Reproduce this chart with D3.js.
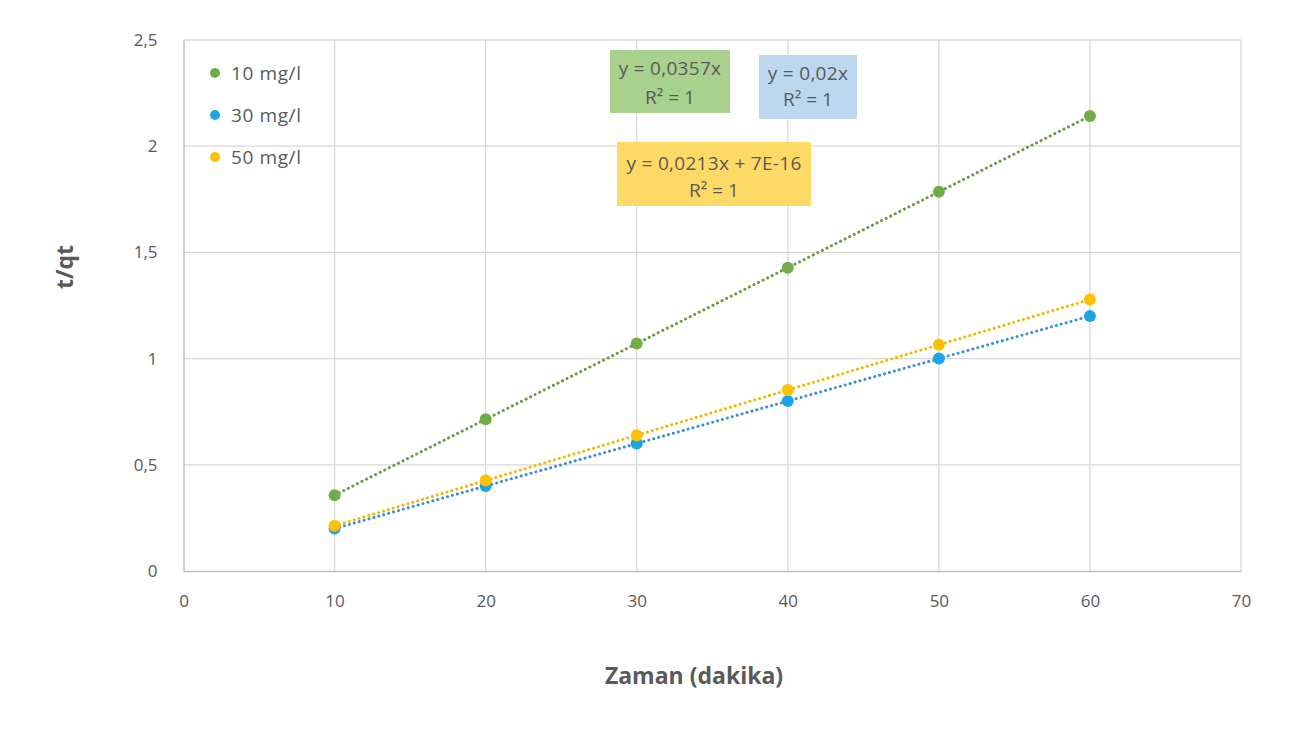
<!DOCTYPE html>
<html>
<head>
<meta charset="utf-8">
<script src="https://cdn.jsdelivr.net/npm/d3@7"></script>
<style>
  html, body { margin: 0; padding: 0; background: #fff; }
  svg { display: block; font-family: "Open Sans", "Noto Sans", sans-serif; }
</style>
</head>
<body>
<svg id="chart" width="1311" height="753"></svg>
<script>
// Time (minutes) for each measurement
const times = [10, 20, 30, 40, 50, 60];
// t/qt values for each initial concentration
const conc10 = [0.357, 0.714, 1.071, 1.428, 1.785, 2.142];
const conc30 = [0.2, 0.4, 0.6, 0.8, 1.0, 1.2];
const conc50 = [0.213, 0.426, 0.639, 0.852, 1.065, 1.278];

const seriesNames = ["10 mg/l", "30 mg/l", "50 mg/l"];
const seriesValues = [conc10, conc30, conc50];
const seriesColors = ["#70AD47", "#1AA6E4", "#FFC000"];
const trendColors = ["#6a9a45", "#3a8fd6", "#f2b800"];

// Trendline equations shown in labelled boxes
const equations = [
  { line1: "y = 0,0357x", line2: "R² = 1" },
  { line1: "y = 0,02x", line2: "R² = 1" },
  { line1: "y = 0,0213x + 7E-16", line2: "R² = 1" }
];
const eqFills = ["#A9D18E", "#BDD7EE", "#FFD966"];

const xTicks = [0, 10, 20, 30, 40, 50, 60, 70];
const yTicks = [0, 0.5, 1, 1.5, 2, 2.5];
const yTickLabels = ["0", "0,5", "1", "1,5", "2", "2,5"];

const svg = d3.select("#chart");
const x = d3.scaleLinear().domain([0, 70]).range([183.5, 1241]);
const y = d3.scaleLinear().domain([0, 2.5]).range([571, 40]);

const grid = svg.append("g");
// vertical grid
grid.selectAll("line.v").data(xTicks.slice(1)).join("line")
  .attr("x1", d => x(d)).attr("x2", d => x(d))
  .attr("y1", y(0)).attr("y2", y(2.5))
  .attr("stroke", "#d9d9d9").attr("stroke-width", 1.3);
// horizontal grid
grid.selectAll("line.h").data(yTicks.slice(1)).join("line")
  .attr("x1", x(0)).attr("x2", x(70))
  .attr("y1", d => y(d)).attr("y2", d => y(d))
  .attr("stroke", "#d9d9d9").attr("stroke-width", 1.3);

// axes
const xAxis = svg.append("g").attr("transform", `translate(0,${y(0)})`)
  .call(d3.axisBottom(x).tickValues(xTicks).tickSize(0).tickPadding(24));
const yAxis = svg.append("g").attr("transform", `translate(${x(0)},0)`)
  .call(d3.axisLeft(y).tickValues(yTicks).tickSize(0).tickPadding(26)
    .tickFormat((d, i) => yTickLabels[i]));
[xAxis, yAxis].forEach(a => {
  a.select(".domain").attr("stroke", "#bfbfbf").attr("stroke-width", 1.5);
  a.selectAll("text").attr("fill", "#595959").style("font-size", "17px")
    .style("font-family", "'Open Sans', sans-serif");
});

// axis titles
svg.append("text").attr("x", 694).attr("y", 684).attr("text-anchor", "middle")
  .attr("fill", "#595959").style("font-size", "23px").style("font-weight", "bold")
  .text("Zaman (dakika)");
svg.append("text").attr("transform", "translate(73,267) rotate(-90)")
  .attr("text-anchor", "middle").attr("fill", "#595959")
  .style("font-size", "23px").style("font-weight", "bold").text("t/qt");

// dotted linear trendlines
seriesValues.forEach((vals, i) => {
  svg.append("path")
    .datum(times.map((t, j) => [t, vals[j]]))
    .attr("d", d3.line().x(d => x(d[0])).y(d => y(d[1])))
    .attr("fill", "none").attr("stroke", trendColors[i])
    .attr("stroke-width", 3).attr("stroke-dasharray", "0.1 5")
    .attr("stroke-linecap", "round");
});

// markers
seriesValues.forEach((vals, i) => {
  svg.append("g").selectAll("circle").data(vals).join("circle")
    .attr("cx", (d, j) => x(times[j])).attr("cy", d => y(d))
    .attr("r", 6).attr("fill", seriesColors[i]);
});

// legend
const legend = svg.append("g");
seriesNames.forEach((name, i) => {
  const ly = 73 + i * 42;
  legend.append("circle").attr("cx", 215).attr("cy", ly).attr("r", 5)
    .attr("fill", seriesColors[i]);
  legend.append("text").attr("x", 231).attr("y", ly + 7)
    .attr("fill", "#595959").style("font-size", "19px")
    .style("letter-spacing", "0.6px").text(name);
});

// equation boxes
const eqBoxes = [
  { x0: 610, y0: 50, w: 120, h: 63, b1: 25, b2: 54 },
  { x0: 759, y0: 55, w: 98, h: 64, b1: 25, b2: 51 },
  { x0: 617, y0: 142, w: 194, h: 64, b1: 28, b2: 55 }
];
equations.forEach((eq, i) => {
  const b = eqBoxes[i];
  const g = svg.append("g");
  g.append("rect").attr("x", b.x0).attr("y", b.y0).attr("width", b.w).attr("height", b.h)
    .attr("fill", eqFills[i]);
  g.append("text").attr("x", b.x0 + b.w / 2).attr("y", b.y0 + b.b1)
    .attr("text-anchor", "middle").attr("fill", "#595959").style("font-size", "19px")
    .style("letter-spacing", "0.3px").text(eq.line1);
  g.append("text").attr("x", b.x0 + b.w / 2).attr("y", b.y0 + b.b2)
    .attr("text-anchor", "middle").attr("fill", "#595959").style("font-size", "19px")
    .text(eq.line2);
});
</script>
</body>
</html>
